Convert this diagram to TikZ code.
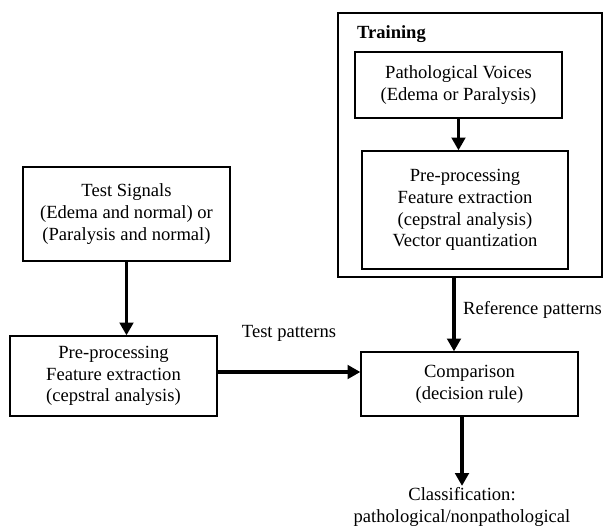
\documentclass[tikz,border=0pt]{standalone}
\usepackage{fontspec}
\setmainfont{Liberation Serif}
\usetikzlibrary{arrows.meta}

\begin{document}
\begin{tikzpicture}[
  x=0.7pt, y=-0.7pt,
  font=\fontsize{13}{15.2}\selectfont,
  box/.style={rectangle, draw=black, line width=0.9pt, align=center, inner sep=0pt},
  arrow/.style={line width=2.2pt, -{Triangle[length=9pt, width=9.5pt]}}
]
\useasboundingbox (0,0) rectangle (603,531);

% training part
\node (training) [box, minimum width=184.8pt, minimum height=184.8pt] at (470,145) {};
\node (trlabel) [anchor=west, font=\fontsize{13}{15.2}\selectfont\bfseries] at (352,34) {Training};
\node (voices) [box, minimum width=144.9pt, minimum height=46.2pt] at (458.5,85) {Pathological Voices\\(Edema or Paralysis)};
\node (trainpre) [box, minimum width=144.2pt, minimum height=82.6pt] at (465,210) {Pre-processing\\Feature extraction\\(cepstral analysis)\\Vector quantization};

% test part
\node (testsig) [box, minimum width=144.9pt, minimum height=65.8pt] at (126.5,214) {Test Signals\\(Edema and normal) or\\(Paralysis and normal)};
\node (leftpre) [box, minimum width=144.9pt, minimum height=56pt] at (113.5,376) {Pre-processing\\Feature extraction\\(cepstral analysis)};

% decision
\node (comp) [box, minimum width=151.9pt, minimum height=44.8pt] at (469.5,384) {Comparison\\(decision rule)};
\node (result) [align=center, inner sep=1pt] at (462,507) {Classification:\\pathological/nonpathological};

\coordinate (tp) at (0,372);
\coordinate (rp) at (454,0);

\draw [arrow] (voices.south) -- (voices.south |- trainpre.north);
\draw [arrow] (testsig) -- (testsig |- leftpre.north);
\draw [arrow] (leftpre.east |- tp) -- node[above=17pt] {Test patterns} (comp.west |- tp);
\draw [arrow] (training.south -| rp) -- node[pos=0.44, right=2pt] {Reference patterns} (comp.north -| rp);
\draw [arrow] (comp.south -| result) -- (result);

\end{tikzpicture}
\end{document}
